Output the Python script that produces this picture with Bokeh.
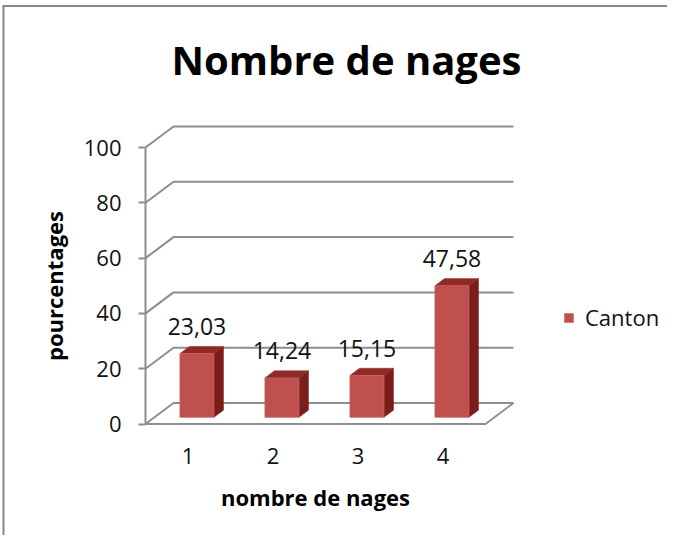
from bokeh.plotting import figure
from bokeh.models import Range1d, FixedTicker, Label, Legend, LegendItem
from bokeh.embed import file_html
from bokeh.resources import INLINE

# ---------------- data ----------------
categories = [1, 2, 3, 4]
cat_labels = ["1", "2", "3", "4"]
values = [23.03, 14.24, 15.15, 47.58]
series_name = "Canton"
y_ticks = [0, 20, 40, 60, 80, 100]
chart_title = "Nombre de nages"
x_title = "nombre de nages"
y_title = "pourcentages"

# ---------------- layout ----------------
W, H = 667, 535
AX_X = 145.0     # plot px of front value axis
UX = 85.0        # px per category
Y0 = 423.5       # plot px (from top) of value 0 on front plane
UY = 2.765       # px per value unit

x_start = 0.5 - AX_X / UX
x_end = x_start + W / UX
y_end = Y0 / UY
y_start = y_end - H / UY


def px_x(px):
    return x_start + px / UX


def px_y(py):
    return y_end - py / UY


DX = 28.0 / UX   # depth offset of back wall (x)
DY = 21.0 / UY   # depth offset of back wall (y)
FRONT_D, BACK_D = 0.32, 0.66
BAR_W = 0.4

FONT = "Open Sans"
GRID_COLOR = "#8E8E8E"
FRONT_COLOR = "#C0504D"
SIDE_COLOR = "#7A1D1B"
TOP_COLOR = "#8F2A27"

p = figure(width=W, height=H, output_backend="svg", toolbar_location=None,
           x_range=Range1d(x_start, x_end), y_range=Range1d(y_start, y_end),
           min_border=0, min_border_left=0, min_border_right=0,
           min_border_top=0, min_border_bottom=0)
p.outline_line_color = None
p.grid.visible = False
p.background_fill_color = "white"
p.border_fill_color = "white"

# chart area border (left and top visible)
p.segment(x0=[px_x(2), px_x(3)], y0=[px_y(5.5), px_y(5.5)],
          x1=[px_x(W), px_x(3)], y1=[px_y(5.5), px_y(H)],
          line_color="#888888", line_width=2)

# walls: gridlines on back and left walls
lo, hi = categories[0] - 0.5, categories[-1] + 0.5
gx = [[lo, lo + DX, hi + DX] for v in y_ticks]
gy = [[v, v + DY, v + DY] for v in y_ticks]
p.multi_line(xs=gx, ys=gy, line_color=GRID_COLOR, line_width=2)
# floor front edge and right edge
p.line(x=[lo, hi, hi + DX], y=[0, 0, DY], line_color=GRID_COLOR, line_width=2)

# bars (3D)
ddx = (BACK_D - FRONT_D) * DX
ddy = (BACK_D - FRONT_D) * DY
lefts = [c - BAR_W / 2 + FRONT_D * DX for c in categories]
rights = [l + BAR_W for l in lefts]
bottoms = [FRONT_D * DY for _ in values]
tops = [v + FRONT_D * DY for v in values]

side_xs = [[r, r + ddx, r + ddx, r] for r in rights]
side_ys = [[b, b + ddy, t + ddy, t] for b, t in zip(bottoms, tops)]
top_xs = [[l, r, r + ddx, l + ddx] for l, r in zip(lefts, rights)]
top_ys = [[t, t, t + ddy, t + ddy] for t in tops]

p.patches(xs=side_xs, ys=side_ys, fill_color=SIDE_COLOR, line_color=SIDE_COLOR, line_width=0.5)
p.patches(xs=top_xs, ys=top_ys, fill_color=TOP_COLOR, line_color=TOP_COLOR, line_width=0.5)
front = p.quad(left=lefts, right=rights, bottom=bottoms, top=tops,
               fill_color=FRONT_COLOR, line_color="#C8625F", line_width=0.8)

# value labels
lab_x = [c + FRONT_D * DX for c in categories]
lab_y = [v + BACK_D * DY + 20.0 / UY for v in values]
lab_t = [f"{v:.2f}".replace(".", ",") for v in values]
p.text(x=lab_x, y=lab_y, text=lab_t, text_align="center", text_baseline="middle",
       text_font={"value": FONT}, text_font_size="23px", text_color="#111111")

# value axis
ya = p.yaxis[0]
ya.fixed_location = lo
ya.bounds = (y_ticks[0], y_ticks[-1])
ya.ticker = FixedTicker(ticks=y_ticks)
ya.major_tick_out = 7
ya.major_tick_in = 0
ya.minor_tick_line_color = None
ya.axis_line_color = GRID_COLOR
ya.axis_line_width = 2
ya.major_tick_line_color = GRID_COLOR
ya.major_tick_line_width = 2
ya.major_label_standoff = 17
ya.major_label_text_font = FONT
ya.major_label_text_font_size = "22px"
ya.major_label_text_color = "#111111"
ya.axis_label = y_title
ya.axis_label_text_font = FONT
ya.axis_label_text_font_style = "bold"
ya.axis_label_text_font_size = "22px"
ya.axis_label_text_color = "#000000"
ya.axis_label_standoff = 12

# category axis
xa = p.xaxis[0]
xa.fixed_location = 0
xa.bounds = (lo, hi)
xa.ticker = FixedTicker(ticks=categories)
xa.major_label_overrides = {c: s for c, s in zip(categories, cat_labels)}
xa.axis_line_color = None
xa.major_tick_line_color = None
xa.minor_tick_line_color = None
xa.major_tick_out = 0
xa.major_tick_in = 0
xa.major_label_standoff = 24
xa.major_label_text_font = FONT
xa.major_label_text_font_size = "22px"
xa.major_label_text_color = "#111111"
xa.axis_label = x_title
xa.axis_label_text_font = FONT
xa.axis_label_text_font_style = "bold"
xa.axis_label_text_font_size = "22px"
xa.axis_label_text_color = "#000000"
xa.axis_label_standoff = 14

# title
p.add_layout(Label(x=px_x(346), y=px_y(59), text=chart_title, text_align="center",
                   text_baseline="middle", text_font=FONT, text_font_style="bold",
                   text_font_size="40px", text_color="#000000"))

# legend
legend = Legend(items=[LegendItem(label=series_name, renderers=[front])],
                location=(563, 203), glyph_width=11, glyph_height=11,
                label_standoff=11, padding=0, margin=0, spacing=0,
                border_line_color=None, background_fill_alpha=0,
                label_text_font=FONT, label_text_font_size="22px",
                label_text_color="#111111")
p.add_layout(legend)

open("out.html", "w").write(file_html(p, INLINE))
